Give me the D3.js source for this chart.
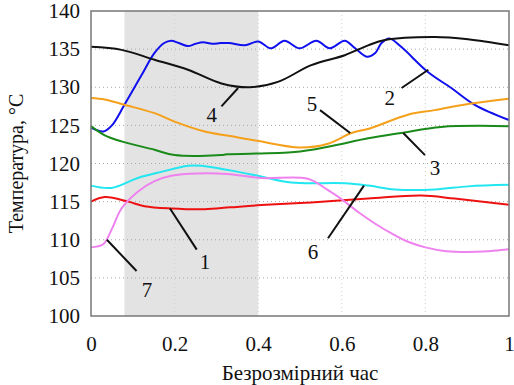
<!DOCTYPE html>
<html>
<head>
<meta charset="utf-8">
<script src="https://cdn.jsdelivr.net/npm/d3@7"></script>
<style>
  body { margin: 0; background: #fff; }
  text { font-family: "Liberation Serif", "Tinos", "DejaVu Serif", "Noto Serif", "Times New Roman", serif; fill: #111; }
</style>
</head>
<body>
<div id="vis-container"></div>
<script>
// curve data: [dimensionless time, temperature °C]
var curve1 = [[0,115.0],[0.033,115.6],[0.089,115.0],[0.128,114.4],[0.192,114.1],[0.272,114.0],[0.333,114.25],[0.407,114.55],[0.527,114.9],[0.663,115.4],[0.79,115.8],[0.87,115.4],[1,114.6]];
var curve2 = [[0,124.7],[0.03,124.2],[0.05,125.0],[0.08,127.7],[0.12,131.5],[0.152,134.5],[0.175,135.8],[0.192,136.1],[0.21,135.8],[0.232,135.4],[0.25,135.7],[0.268,135.9],[0.29,135.7],[0.31,135.8],[0.33,135.8],[0.368,135.5],[0.4,136.0],[0.431,135.1],[0.463,136.1],[0.499,135.1],[0.539,136.1],[0.571,135.1],[0.607,136.1],[0.63,135.2],[0.66,134.0],[0.68,134.5],[0.695,135.8],[0.714,136.4],[0.742,135.3],[0.806,132.0],[0.862,129.9],[0.918,127.7],[1,125.7]];
var curve3 = [[0,124.9],[0.033,123.7],[0.073,122.9],[0.152,121.8],[0.2,121.1],[0.312,121.1],[0.325,121.2],[0.487,121.5],[0.567,122.2],[0.663,123.3],[0.742,124.0],[0.838,124.8],[1,124.9]];
var curve4 = [[0,135.3],[0.073,134.9],[0.152,133.6],[0.232,132.3],[0.312,130.5],[0.38,130.0],[0.447,130.7],[0.527,132.9],[0.607,134.2],[0.663,135.5],[0.703,136.2],[0.822,136.6],[0.902,136.3],[1,135.5]];
var curve5 = [[0,128.6],[0.033,128.4],[0.08,127.7],[0.152,126.6],[0.2,125.5],[0.272,124.2],[0.333,123.6],[0.4,122.95],[0.499,122.1],[0.567,122.6],[0.623,124.0],[0.667,124.6],[0.758,126.4],[0.822,127.0],[0.902,127.8],[1,128.5]];
var curve6 = [[0,117.1],[0.049,116.8],[0.112,118.1],[0.168,118.9],[0.232,119.7],[0.264,119.7],[0.333,119.1],[0.407,118.3],[0.479,117.5],[0.607,117.4],[0.663,117.1],[0.727,116.6],[0.822,116.6],[0.902,117.0],[1,117.2]];
var curve7 = [[0,109.0],[0.029,109.4],[0.049,111.3],[0.073,114.1],[0.112,116.3],[0.152,117.7],[0.192,118.4],[0.256,118.7],[0.333,118.6],[0.407,118.1],[0.519,118.0],[0.567,116.5],[0.6,115.3],[0.64,113.6],[0.68,112.1],[0.72,110.8],[0.76,109.7],[0.8,109.0],[0.85,108.5],[0.9,108.4],[0.95,108.5],[1,108.75]];

var curveNames = ["1", "2", "3", "4", "5", "6", "7"];
var curveData = [curve1, curve2, curve3, curve4, curve5, curve6, curve7];
var curveColors = ["#ee1111", "#1010ee", "#1a8a1a", "#111111", "#f5a01a", "#22e6f0", "#ee82ee"];

// callouts: text position, leader start, leader end (data units)
var calloutText = [[0.273,107.1],[0.715,128.7],[0.823,119.5],[0.289,126.4],[0.529,127.9],[0.531,108.4],[0.134,103.4]];
var calloutFrom = [[0.253,108.7],[0.743,129.9],[0.799,121.1],[0.312,127.5],[0.548,127.0],[0.567,110.2],[0.109,105.9]];
var calloutTo = [[0.189,114.1],[0.807,132.3],[0.747,124.0],[0.352,129.9],[0.620,124.0],[0.653,117.1],[0.038,110.0]];

var shadeBand = [0.08, 0.4];
var xTicks = [0, 0.2, 0.4, 0.6, 0.8, 1];
var yTicks = [100, 105, 110, 115, 120, 125, 130, 135, 140];

var margin = { top: 11, right: 5, bottom: 69, left: 91 };
var width = 514 - margin.left - margin.right;
var height = 385 - margin.top - margin.bottom;

var svg = d3.select("#vis-container")
	.append("svg")
	.attr("width", 514)
	.attr("height", 385)
	.append("g")
	.attr("transform", "translate(" + margin.left + "," + margin.top + ")");

var xScale = d3.scaleLinear().domain([0, 1]).range([0, width]);
var yScale = d3.scaleLinear().domain([100, 140]).range([height, 0]);

// grey band
svg.append("rect")
	.attr("x", xScale(shadeBand[0]))
	.attr("y", 0)
	.attr("width", xScale(shadeBand[1]) - xScale(shadeBand[0]))
	.attr("height", height)
	.attr("fill", "#e3e3e3");

// dotted grid
svg.selectAll(".hgrid")
	.data(yTicks.slice(1, -1))
	.enter().append("line")
	.attr("x1", 0).attr("x2", width)
	.attr("y1", function (d) { return yScale(d); })
	.attr("y2", function (d) { return yScale(d); })
	.attr("stroke", "#a8a8a8")
	.attr("stroke-dasharray", "1,3");

svg.selectAll(".vgrid")
	.data(xTicks.slice(1, -1))
	.enter().append("line")
	.attr("y1", 0).attr("y2", height)
	.attr("x1", function (d) { return xScale(d); })
	.attr("x2", function (d) { return xScale(d); })
	.attr("stroke", "#d0d0d0")
	.attr("stroke-dasharray", "1,3");

var line = d3.line()
	.x(function (d) { return xScale(d[0]); })
	.y(function (d) { return yScale(d[1]); })
	.curve(d3.curveCatmullRom.alpha(0.5));

svg.selectAll(".series")
	.data(curveData)
	.enter().append("path")
	.attr("fill", "none")
	.attr("stroke", function (d, i) { return curveColors[i]; })
	.attr("stroke-width", 2)
	.attr("d", line);

// callout leaders and labels
svg.selectAll(".leader")
	.data(curveNames)
	.enter().append("line")
	.attr("x1", function (d, i) { return xScale(calloutFrom[i][0]); })
	.attr("y1", function (d, i) { return yScale(calloutFrom[i][1]); })
	.attr("x2", function (d, i) { return xScale(calloutTo[i][0]); })
	.attr("y2", function (d, i) { return yScale(calloutTo[i][1]); })
	.attr("stroke", "#111")
	.attr("stroke-width", 2);

svg.selectAll(".callout")
	.data(curveNames)
	.enter().append("text")
	.attr("x", function (d, i) { return xScale(calloutText[i][0]); })
	.attr("y", function (d, i) { return yScale(calloutText[i][1]); })
	.attr("dy", "0.35em")
	.style("text-anchor", "middle")
	.style("font-size", "21px")
	.text(function (d) { return d; });

// frame
svg.append("rect")
	.attr("width", width).attr("height", height)
	.attr("fill", "none")
	.attr("stroke", "#777")
	.attr("stroke-width", 1.5);

// axes
var xAxis = svg.append("g")
	.attr("transform", "translate(0," + height + ")")
	.call(d3.axisBottom(xScale).tickValues(xTicks).tickSize(0).tickPadding(20).tickFormat(d3.format("")));
var yAxis = svg.append("g")
	.call(d3.axisLeft(yScale).tickValues(yTicks).tickSize(0).tickPadding(11));
[xAxis, yAxis].forEach(function (g) {
	g.attr("font-family", null);
	g.select(".domain").remove();
	g.selectAll("text").style("font-size", "21px").attr("fill", "#111");
});

svg.append("text")
	.attr("x", width / 2)
	.attr("y", height + 64)
	.style("text-anchor", "middle")
	.style("font-size", "21px")
	.text("Безрозмірний час");

svg.append("text")
	.attr("transform", "rotate(-90)")
	.attr("x", -height / 2)
	.attr("y", -68)
	.style("text-anchor", "middle")
	.style("font-size", "20px")
	.text("Температура, °C");
</script>
</body>
</html>
